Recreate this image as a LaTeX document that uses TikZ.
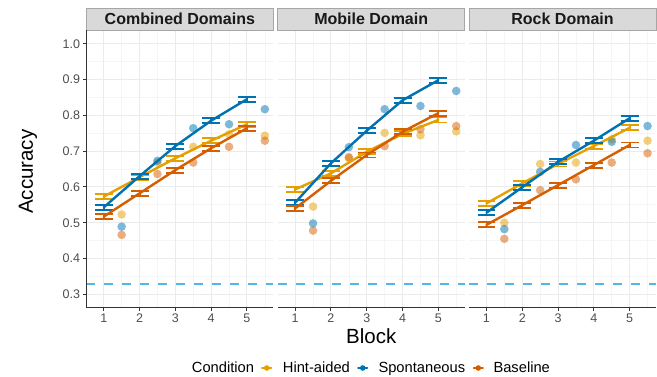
\documentclass[tikz,border=0pt]{standalone}
\usepackage{fontspec}
\setmainfont{Liberation Sans}
\usepackage{xcolor}
\usetikzlibrary{arrows.meta}

\definecolor{cHint}{HTML}{E69F00}
\definecolor{cSpon}{HTML}{0072B2}
\definecolor{cBase}{HTML}{D55E00}
\definecolor{cChance}{HTML}{56B4E9}
\definecolor{gridmaj}{HTML}{EBEBEB}
\definecolor{gridmin}{HTML}{F5F5F5}
\definecolor{axisgray}{HTML}{333333}
\definecolor{ticktext}{HTML}{4D4D4D}

\tikzset{
  meanline/.style={line width=2.4pt,line cap=round,line join=round},
  errbar/.style={line width=1.9pt},
  gridmajor/.style={draw=gridmaj,line width=1pt},
  gridminor/.style={draw=gridmin,line width=0.6pt},
  axisline/.style={draw=axisgray,line width=1pt},
  chanceline/.style={draw=cChance,line width=2pt,dash pattern=on 9pt off 9pt},
  ticklabel/.style={inner sep=0pt,text=ticktext,font=\fontsize{12.5}{14}\selectfont},
  axistitle/.style={inner sep=0pt,font=\fontsize{20.5}{24}\selectfont},
  legendtext/.style={inner sep=0pt,anchor=base west,font=\fontsize{14.7}{17}\selectfont},
  strip/.style={draw=gray!70,fill=gray!30,line width=0.8pt,minimum width=187pt,
    minimum height=22pt,inner sep=0pt,text=black!90,font=\bfseries\fontsize{16}{19}\selectfont},
  panelat/.style={shift={(#1-18.35,401.7)},x=35.8pt,y=358pt}
}

% grid, axis, chance line and strip of one facet
\newcommand{\facetframe}[2]{%
  \foreach \v in {0.35,0.45,0.55,0.65,0.75,0.85,0.95}
    \draw[gridminor] (0.5125,\v) -- (5.7375,\v);
  \foreach \v in {1.5,2.5,3.5,4.5,5.5}
    \draw[gridminor] (\v,0.2645) -- (\v,1.0383);
  \foreach \v in {0.3,0.4,0.5,0.6,0.7,0.8,0.9,1.0}
    \draw[gridmajor] (0.5125,\v) -- (5.7375,\v);
  \foreach \v in {1,...,5}{
    \draw[gridmajor] (\v,0.2645) -- (\v,1.0383);
    \draw[axisline] (\v,0.2645) -- ++(0,-3.7pt)
      node[ticklabel,anchor=north,yshift=-2.5pt] (#1x\v) {\v};
  }
  \draw[chanceline] (0.5125,0.33) -- (5.7375,0.33);
  \draw[axisline] (0.5125,0.2645) -- (5.7375,0.2645);
  \node[strip] (#1) at (3.125,1.069) {#2};
}

% subject means at block + 0.5
\newcommand{\spots}[2]{%
  \foreach \y [count=\b] in {#2}
    \fill[#1,opacity=0.5] (\b+0.5,\y) circle[radius=4.3pt];
}

% condition means with error bars
\newcommand{\trend}[6]{%
  \draw[meanline,#1] (1,#2) -- (2,#3) -- (3,#4) -- (4,#5) -- (5,#6);
  \foreach \m [count=\b] in {#2,#3,#4,#5,#6}
    \draw[errbar,#1] (\b-0.25,\m+0.007) -- (\b+0.25,\m+0.007)
      (\b,\m+0.007) -- (\b,\m-0.007)
      (\b-0.25,\m-0.007) -- (\b+0.25,\m-0.007);
}

\begin{document}
\begin{tikzpicture}[x=1pt,y=-1pt]
\useasboundingbox (0,0) rectangle (657,377);

% Combined Domains
\begin{scope}[panelat=86.3]
  \facetframe{combined}{Combined Domains}
  \foreach \t [count=\k] in {0.3,0.4,0.5,0.6,0.7,0.8,0.9,1.0}
    \draw[axisline] (0.5125,\t) -- ++(-3pt,0)
      node[ticklabel,anchor=east,xshift=-2.8pt] (yt\k) {\t};
  \draw[axisline] (0.5125,0.2645) -- (0.5125,1.0383);
  \spots{cHint}{0.523,0.668,0.712,0.747,0.743}
  \spots{cSpon}{0.489,0.673,0.764,0.775,0.817}
  \spots{cBase}{0.466,0.636,0.668,0.712,0.729}
  \trend{cHint}{0.573}{0.627}{0.680}{0.729}{0.775}
  \trend{cSpon}{0.543}{0.630}{0.714}{0.785}{0.845}
  \trend{cBase}{0.517}{0.582}{0.647}{0.708}{0.764}
\end{scope}

% Mobile Domain
\begin{scope}[panelat=277.7]
  \facetframe{mobile}{Mobile Domain}
  \spots{cHint}{0.545,0.680,0.751,0.744,0.755}
  \spots{cSpon}{0.498,0.711,0.817,0.826,0.868}
  \spots{cBase}{0.478,0.683,0.714,0.761,0.770}
  \trend{cHint}{0.593}{0.638}{0.698}{0.748}{0.787}
  \trend{cSpon}{0.556}{0.666}{0.757}{0.842}{0.898}
  \trend{cBase}{0.540}{0.617}{0.689}{0.754}{0.806}
\end{scope}

% Rock Domain
\begin{scope}[panelat=469]
  \facetframe{rock}{Rock Domain}
  \spots{cHint}{0.500,0.664,0.668,0.733,0.729}
  \spots{cSpon}{0.482,0.642,0.717,0.726,0.770}
  \spots{cBase}{0.455,0.591,0.621,0.668,0.694}
  \trend{cHint}{0.554}{0.610}{0.664}{0.714}{0.765}
  \trend{cSpon}{0.528}{0.599}{0.670}{0.729}{0.792}
  \trend{cBase}{0.494}{0.549}{0.605}{0.661}{0.717}
\end{scope}

% axis titles
\node[axistitle,rotate=90,anchor=base] (ylab) at (32.8,171.7) {Accuracy};
\node[axistitle,anchor=base] (xlab) at (371.3,343.3) {Block};

% legend
\node[legendtext] (cond) at (191.7,372.7) {Condition};
\draw[meanline,cHint] (262.2,368) -- (271.2,368);
\fill[cHint] (266.7,368) circle[radius=2.8pt];
\node[legendtext] (lhint) at (282.7,372.7) {Hint-aided};
\draw[meanline,cSpon] (358.2,368) -- (367.2,368);
\fill[cSpon] (362.7,368) circle[radius=2.8pt];
\node[legendtext] (lspon) at (378.3,372.7) {Spontaneous};
\draw[meanline,cBase] (473.8,368) -- (482.8,368);
\fill[cBase] (478.3,368) circle[radius=2.8pt];
\node[legendtext] (lbase) at (493.3,372.7) {Baseline};
\end{tikzpicture}
\end{document}
